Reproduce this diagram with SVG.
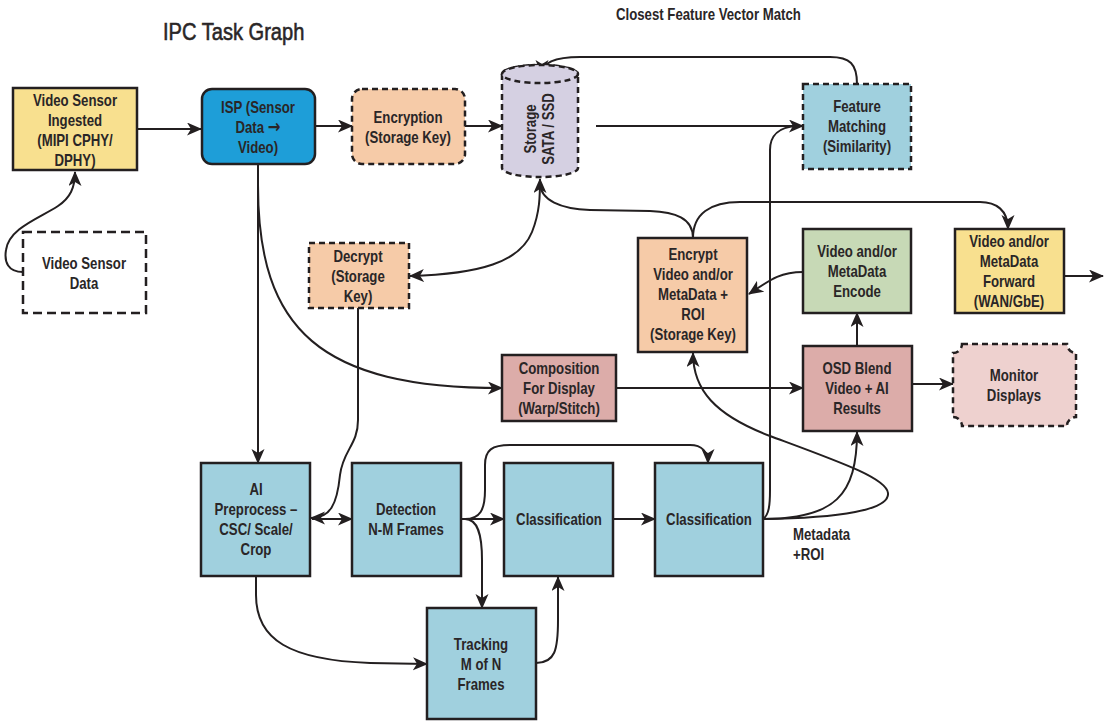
<svg xmlns="http://www.w3.org/2000/svg" width="1112" height="722" viewBox="0 0 1112 722">
<defs>
<marker id="ah" markerUnits="userSpaceOnUse" markerWidth="16" markerHeight="14" refX="14" refY="6.5" orient="auto-start-reverse" viewBox="0 0 16 14">
<path d="M0,0 L15,6.5 L0,13 L4,6.5 Z" fill="#231f20"/>
</marker>
</defs>
<style>
text{font-family:"Liberation Sans",Arial,sans-serif;font-weight:bold;font-size:16.5px;fill:#2a2627;text-anchor:middle}
.box{stroke:#231f20;stroke-width:2.5}
.dash{stroke-dasharray:6 4}
.c{fill:none;stroke:#231f20;stroke-width:2}
.lbl{text-anchor:start}
.yel{fill:#f8e08f}.blu{fill:#1e9ed8}.pch{fill:#f6cba8}.lav{fill:#d5d0e2}.lb{fill:#a0d0de}.grn{fill:#c7d9b6}.ros{fill:#dcaca9}.mon{fill:#eed1cf}
</style>
<g transform="translate(163,0) scale(0.82,1)"><text x="0" y="40" class="lbl" style="font-size:24.5px;font-weight:normal;stroke:#2a2627;stroke-width:0.6">IPC Task Graph</text></g>
<g transform="translate(616,0) scale(0.8,1)"><text x="0" y="20" class="lbl" style="font-size:16.5px">Closest Feature Vector Match</text></g>
<g transform="translate(793,0) scale(0.8,1)"><text x="0" y="540" class="lbl">Metadata</text><text x="0" y="560" class="lbl">+ROI</text></g>

<g id="connectors">
<path class="c" d="M137,129 L201,129" marker-end="url(#ah)"/>
<path class="c" d="M315,126 L352,126" marker-end="url(#ah)"/>
<path class="c" d="M465,126 L502,126" marker-end="url(#ah)"/>
<path class="c" d="M596,126 L803,126" marker-end="url(#ah)"/>
<path class="c" d="M857,84 C857,64 850,57 830,57 L580,57 C555,57 542,62 542,74" marker-end="url(#ah)"/>
<path class="c" d="M23,272 C8,272 4,262 6,250 C9,228 40,218 58,206 C70,198 75,188 75,172" marker-end="url(#ah)"/>
<path class="c" d="M258,163 L258,463" marker-end="url(#ah)"/>
<path class="c" d="M258,185 C258,330 320,388 502,388" marker-end="url(#ah)"/>
<path class="c" d="M358,308 L358,420 C358,445 343,450 340,475 C337,505 330,518 311,518" marker-end="url(#ah)"/>
<path class="c" d="M312,519 L352,519" marker-end="url(#ah)"/>
<path class="c" d="M410,276 C480,274 520,262 532,232 C540,212 540,195 540,179" marker-start="url(#ah)" marker-end="url(#ah)"/>
<path class="c" d="M693,238 C693,218 675,212 650,211 L590,210 C560,209 541,200 540,184"/>
<path class="c" d="M693,238 C693,214 710,202 740,202 L980,202 C996,202 1008,210 1008,229" marker-end="url(#ah)"/>
<path class="c" d="M803,272 C780,272 770,280 749,294" marker-end="url(#ah)"/>
<path class="c" d="M1064,276 L1103,276" marker-end="url(#ah)"/>
<path class="c" d="M857,346 L857,313" marker-end="url(#ah)"/>
<path class="c" d="M616,388 L803,388" marker-end="url(#ah)"/>
<path class="c" d="M912,384 L953,384" marker-end="url(#ah)"/>
<path class="c" d="M461,519 L504,519" marker-end="url(#ah)"/>
<path class="c" d="M465,519 C480,519 485,510 485,490 L485,465 C485,450 492,445 510,445 L690,445 C702,445 708,452 708,463" marker-end="url(#ah)"/>
<path class="c" d="M465,519 C478,519 482,535 482,560 L482,608" marker-end="url(#ah)"/>
<path class="c" d="M613,519 L655,519" marker-end="url(#ah)"/>
<path class="c" d="M256,576 L256,595 C256,640 290,660 370,663 L427,664" marker-end="url(#ah)"/>
<path class="c" d="M536,663 C555,663 558,650 558,620 L558,577" marker-end="url(#ah)"/>
<path class="c" d="M763,519 C769,515 770,505 770,490 L770,150 C770,135 780,127 796,126"/>
<path class="c" d="M763,519 C835,519 857,495 857,432" marker-end="url(#ah)"/>
<path class="c" d="M763,519 C840,518 890,510 888,493 C886,478 840,462 770,436 C715,415 693,390 693,353" marker-end="url(#ah)"/>
</g>

<g id="n-ingested">
<rect x="13" y="88" width="124" height="82" class="box yel"/>
<g transform="translate(75,0) scale(0.8,1)"><text x="0" y="106">Video Sensor</text><text x="0" y="126">Ingested</text><text x="0" y="146">(MIPI CPHY/</text><text x="0" y="166">DPHY)</text></g>
</g>
<g id="n-isp">
<rect x="202" y="89" width="113" height="75" rx="10" class="box blu"/>
<g transform="translate(258,0) scale(0.8,1)"><text x="0" y="113">ISP (Sensor</text><text x="0" y="133">Data <tspan style="font-family:'DejaVu Sans',sans-serif;font-weight:bold;font-size:19px">→</tspan></text><text x="0" y="153">Video)</text></g>
</g>
<g id="n-encryption">
<rect x="352" y="89" width="113" height="75" rx="10" class="box dash pch"/>
<g transform="translate(408,0) scale(0.8,1)"><text x="0" y="123">Encryption</text><text x="0" y="143">(Storage Key)</text></g>
</g>
<g id="n-storage">
<path d="M502,74 L502,168 A38,9 0 0 0 578,168 L578,74 A38,9 0 0 0 502,74 Z" class="box dash lav"/>
<ellipse cx="540" cy="74" rx="38" ry="9" class="box dash lav"/>
<g transform="translate(540,129) rotate(-90) scale(0.8,1)">
<text x="0" y="-4">Storage</text><text x="0" y="14">SATA / SSD</text>
</g>
</g>
<g id="n-feature">
<rect x="803" y="84" width="108" height="85" class="box dash lb"/>
<g transform="translate(857,0) scale(0.8,1)"><text x="0" y="112">Feature</text><text x="0" y="132">Matching</text><text x="0" y="152">(Similarity)</text></g>
</g>
<g id="n-vsdata">
<rect x="23" y="232" width="123" height="81" fill="#ffffff" class="box" style="stroke-dasharray:9 5"/>
<g transform="translate(84,0) scale(0.8,1)"><text x="0" y="269">Video Sensor</text><text x="0" y="289">Data</text></g>
</g>
<g id="n-decrypt">
<rect x="309" y="243" width="100" height="65" class="box dash pch"/>
<g transform="translate(358,0) scale(0.8,1)"><text x="0" y="262">Decrypt</text><text x="0" y="282">(Storage</text><text x="0" y="302">Key)</text></g>
</g>
<g id="n-encryptvideo">
<rect x="638" y="238" width="109" height="114" class="box pch"/>
<g transform="translate(693,0) scale(0.8,1)"><text x="0" y="260">Encrypt</text><text x="0" y="280">Video and/or</text><text x="0" y="300">MetaData +</text><text x="0" y="320">ROI</text><text x="0" y="340">(Storage Key)</text></g>
</g>
<g id="n-encode">
<rect x="803" y="229" width="108" height="84" class="box grn"/>
<g transform="translate(857,0) scale(0.8,1)"><text x="0" y="257">Video and/or</text><text x="0" y="277">MetaData</text><text x="0" y="297">Encode</text></g>
</g>
<g id="n-forward">
<rect x="955" y="229" width="109" height="84" class="box yel"/>
<g transform="translate(1009,0) scale(0.8,1)"><text x="0" y="247">Video and/or</text><text x="0" y="267">MetaData</text><text x="0" y="287">Forward</text><text x="0" y="307">(WAN/GbE)</text></g>
</g>
<g id="n-composition">
<rect x="502" y="355" width="114" height="66" class="box ros"/>
<g transform="translate(559,0) scale(0.8,1)"><text x="0" y="374">Composition</text><text x="0" y="394">For Display</text><text x="0" y="414">(Warp/Stitch)</text></g>
</g>
<g id="n-osd">
<rect x="803" y="346" width="109" height="85" class="box ros"/>
<g transform="translate(857,0) scale(0.8,1)"><text x="0" y="374">OSD Blend</text><text x="0" y="394">Video + AI</text><text x="0" y="414">Results</text></g>
</g>
<g id="n-monitor">
<path d="M962,344 L1067,344 A9,9 0 0 0 1076,353 L1076,417 A9,9 0 0 0 1067,426 L962,426 A9,9 0 0 0 953,417 L953,353 A9,9 0 0 0 962,344 Z" class="box dash mon"/>
<g transform="translate(1014,0) scale(0.8,1)"><text x="0" y="381">Monitor</text><text x="0" y="401">Displays</text></g>
</g>
<g id="n-aipre">
<rect x="201" y="463" width="109" height="113" class="box lb"/>
<g transform="translate(256,0) scale(0.8,1)"><text x="0" y="495">AI</text><text x="0" y="515">Preprocess –</text><text x="0" y="535">CSC/ Scale/</text><text x="0" y="555">Crop</text></g>
</g>
<g id="n-detection">
<rect x="352" y="463" width="109" height="113" class="box lb"/>
<g transform="translate(406,0) scale(0.8,1)"><text x="0" y="515">Detection</text><text x="0" y="535">N-M Frames</text></g>
</g>
<g id="n-class1">
<rect x="504" y="463" width="109" height="113" class="box lb"/>
<g transform="translate(559,0) scale(0.8,1)"><text x="0" y="525">Classification</text></g>
</g>
<g id="n-class2">
<rect x="655" y="463" width="108" height="113" class="box lb"/>
<g transform="translate(709,0) scale(0.8,1)"><text x="0" y="525">Classification</text></g>
</g>
<g id="n-tracking">
<rect x="427" y="608" width="109" height="111" class="box lb"/>
<g transform="translate(481,0) scale(0.8,1)"><text x="0" y="650">Tracking</text><text x="0" y="670">M of N</text><text x="0" y="690">Frames</text></g>
</g>
</svg>
